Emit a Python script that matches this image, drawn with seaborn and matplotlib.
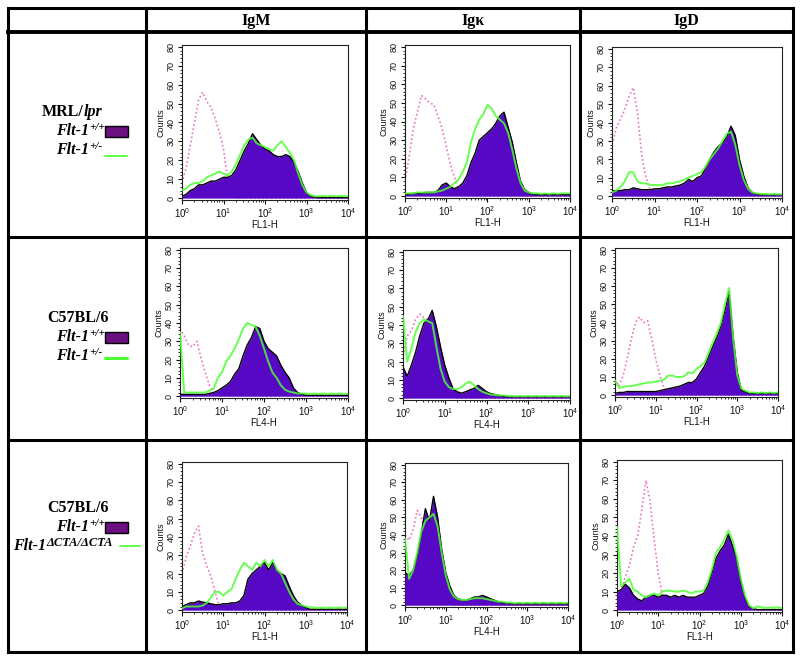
import numpy as np
import matplotlib
matplotlib.use("Agg")
import matplotlib.pyplot as plt
from matplotlib.patches import Rectangle
from matplotlib.ticker import MultipleLocator, LogLocator, NullFormatter
import seaborn as sns

# ---------------- data (log10 of fluorescence channel, counts) ----------------
DECADES = [0.0, 0.1, 0.2, 0.3, 0.4, 0.5, 0.6, 0.7, 0.8, 0.9,
           1.0, 1.1, 1.2, 1.3, 1.4, 1.5, 1.6, 1.7, 1.8, 1.9,
           2.0, 2.1, 2.2, 2.3, 2.4, 2.5, 2.6, 2.7, 2.8, 2.9,
           3.0, 3.1, 3.2, 3.3, 3.4, 3.5, 3.6, 3.7, 3.8, 3.9, 4.0]

COLUMNS = ["IgM", "Igκ", "IgD"]

# Row 1: MRL/lpr
IGM_MRL_ISO = [8, 16, 28, 40, 52, 56, 51, 48, 42, 35, 26, 10, 1] + [0] * 28
IGM_MRL_WT = [1, 2, 4, 5, 7, 7, 8, 9, 9, 10, 11, 11, 12, 15, 20, 25, 29, 34, 31, 28,
              26, 25, 23, 22, 22, 23, 22, 19, 14, 8, 3, 1, 0.5] + [0.3] * 8
IGM_MRL_HET = [4, 5, 7, 8, 8, 9, 11, 12, 13, 14, 13, 12, 14, 18, 23, 28, 31, 32, 29, 28,
               27, 26, 25, 28, 30, 27, 24, 20, 13, 7, 3, 1.5, 1, 1, 1.2, 1, 1.3, 1, 1.2, 1, 1]

IGK_MRL_ISO = [8, 21, 36, 45, 54, 52, 50, 49, 43, 36, 27, 17, 10, 3, 0.5] + [0] * 26
IGK_MRL_WT = [1, 1, 1.5, 1.5, 1.5, 2, 2, 2, 3, 6, 7, 5, 4, 5, 7, 11, 18, 23, 30, 32,
              34, 36, 39, 43, 45, 37, 29, 18, 8, 3.5, 2, 1] + [0.8] * 9
IGK_MRL_HET = [1.5, 1.5, 1.5, 2, 2, 2, 2, 2, 2.5, 3, 4, 5, 7, 9, 13, 18, 29, 36, 41, 44,
               49, 47, 43, 41, 39, 34, 25, 15, 7, 3, 2, 1.5, 1.5, 1.2, 1.5, 1.2, 1.5, 1.2, 1.5, 1.5, 1.5]

IGD_MRL_ISO = [28, 37, 42, 47, 54, 59, 45, 22, 10, 3, 0.5] + [0] * 30
IGD_MRL_WT = [3, 3, 3, 3.5, 3.5, 4.5, 4, 3.5, 3.5, 3.5, 4, 4, 4.5, 5, 5, 5.5, 6, 7, 9, 8,
              10, 11, 15, 20, 24, 27, 29, 32, 38, 33, 20, 11, 4.5, 2, 1] + [0.8] * 6
IGD_MRL_HET = [2, 3, 5, 8, 13, 13, 8, 7, 7, 6, 6, 6, 6, 7, 7, 7.5, 8, 9, 10, 11,
               12, 13, 16, 20, 23, 26, 30, 34, 35, 28, 17, 9, 4, 2, 1.5, 1.2, 1.2, 1, 1.2, 1, 1]

# Row 2: C57BL/6
IGM_B6_ISO = [37, 33, 28, 27, 30, 21, 13, 6, 2, 0.5] + [0] * 31
IGM_B6_WT = [1, 1, 1, 1, 1, 1, 1, 1.5, 2, 3, 4.5, 6, 8, 12, 15, 22, 28, 32, 38, 37,
             30, 26, 24, 22, 17, 13, 10, 4.5, 2, 1] + [0.5] * 11
IGM_B6_HET = [35, 2, 2, 2, 2, 2, 2, 3, 4, 10, 13, 19, 22, 26, 31, 37, 40, 39, 38, 33,
              26, 19, 13, 10, 6, 3.5, 2.5, 2, 1.5, 1.5, 1.5, 1.2, 1.5, 1.2, 1.5, 1.2, 1.5, 1.2, 1.5, 1.2, 1.5]

IGK_B6_ISO = [23, 34, 37, 43, 46, 44, 43, 45, 32, 18, 9, 3.5, 1] + [0] * 28
IGK_B6_WT = [17, 12, 18, 25, 34, 41, 43, 48, 39, 28, 18, 11, 5, 3.5, 2.7, 3.5, 4.5, 5.3, 7, 5.3,
             3.5, 2.5, 2, 1.5, 1] + [0.8] * 16
IGK_B6_HET = [45, 20, 27, 36, 41, 43, 42, 41, 28, 16, 9, 6, 5, 5, 6, 8, 9, 7, 5, 3.5,
              2.7, 2, 1.8, 1.5, 1.5, 1.2, 1.2, 1, 1.2, 1, 1.2, 1, 1.2, 1, 1.2, 1, 1.2, 1, 1.2, 1, 1.2]

IGD_B6_ISO = [9, 5, 11, 20, 31, 40, 43, 40, 41, 31, 20, 11, 3.6, 1] + [0] * 27
IGD_B6_WT = [1, 1.5, 1.5, 2, 2, 2, 2, 2, 2, 2, 2, 2.5, 3, 3.5, 4, 4.5, 5, 6, 7, 7,
             9, 12.6, 16, 21.6, 27, 32, 38, 47, 57, 32, 12.6, 2.7, 1.8] + [1] * 8
IGD_B6_HET = [8, 4, 4.5, 5, 5, 5.5, 6, 6.5, 7, 7, 7.5, 8, 8.5, 10.8, 10.8, 10, 10, 10.5, 12.6, 12,
              14.4, 16, 18, 23.4, 29, 34, 40, 50, 59, 31, 11, 3.6, 2.5, 1.5, 1.5, 1.2, 1.5, 1.2, 1.5, 1.2, 1.5]

# Row 3: C57BL/6, Flt-1 dCTA/dCTA
IGM_CTA_ISO = [20, 29, 35, 42, 46, 31, 24, 18.7, 10, 2.7, 1] + [0] * 30
IGM_CTA_WT = [2, 3, 4, 4, 5, 4.4, 4, 3.5, 3, 3, 3.5, 3.5, 4, 4, 5, 8, 17, 20, 22, 24,
              26, 22, 26, 22, 20, 18.7, 13, 8, 4.4, 2.7, 1.5] + [0.5] * 10
IGM_CTA_HET = [1, 2, 2, 2, 2, 2.5, 4, 7, 10, 10, 8, 10, 11.5, 17, 22, 26, 24, 22, 26, 24,
               27.5, 24, 27.5, 22, 20, 15, 10, 6, 3.5, 2.7, 2, 1.5, 1.5, 1.2, 1.5, 1.2, 1.5, 1.2, 1.5, 1.2, 1.5]

IGK_CTA_ISO = [40, 37, 43, 54, 50, 40, 35, 25, 15, 7, 3, 1] + [0] * 29
IGK_CTA_WT = [18.6, 17, 20, 28, 41, 55, 48, 62, 50, 32, 18.6, 11, 5.6, 3.7, 2.8, 2.8, 3.7, 4.7, 4.7, 5.6,
              4.7, 3.7, 2.8, 1.9, 1.5, 1.2] + [0.8] * 15
IGK_CTA_HET = [38, 15, 20, 30, 42, 48, 50, 52, 45, 30, 17, 9, 5, 3.5, 3, 3, 3.5, 4, 4, 4,
               3.5, 3, 2.5, 2, 2, 1.5, 1.5, 1.2, 1.5, 1.2, 1.5, 1.2, 1.5, 1.2, 1.5, 1.2, 1.5, 1.2, 1.5, 1.2, 1.5]

IGD_CTA_ISO = [6, 10, 18, 24, 34, 40, 54, 70, 59, 38, 20, 8, 3.5, 1] + [0] * 27
IGD_CTA_WT = [10, 11, 14, 12, 8, 6, 5, 7, 8, 8, 7, 8, 8, 7, 8, 7, 8, 7, 7, 7,
              8, 9, 13, 20, 28, 32, 35, 41, 35, 28, 16, 7, 2, 0.8] + [0.3] * 7
IGD_CTA_HET = [45, 13, 15, 17, 11, 10, 8, 7, 8, 9, 8, 10, 10.5, 10.5, 10, 10, 10.5, 10, 9, 10,
               10, 10.5, 15, 22, 31, 34, 38, 43, 38, 29, 17, 8, 2.6, 1, 2, 1.5, 1.2, 1.5, 1.2, 1.5, 1.2]

PANELS = [
    [(IGM_MRL_ISO, IGM_MRL_WT, IGM_MRL_HET, "FL1-H"),
     (IGK_MRL_ISO, IGK_MRL_WT, IGK_MRL_HET, "FL1-H"),
     (IGD_MRL_ISO, IGD_MRL_WT, IGD_MRL_HET, "FL1-H")],
    [(IGM_B6_ISO, IGM_B6_WT, IGM_B6_HET, "FL4-H"),
     (IGK_B6_ISO, IGK_B6_WT, IGK_B6_HET, "FL4-H"),
     (IGD_B6_ISO, IGD_B6_WT, IGD_B6_HET, "FL1-H")],
    [(IGM_CTA_ISO, IGM_CTA_WT, IGM_CTA_HET, "FL1-H"),
     (IGK_CTA_ISO, IGK_CTA_WT, IGK_CTA_HET, "FL4-H"),
     (IGD_CTA_ISO, IGD_CTA_WT, IGD_CTA_HET, "FL1-H")],
]

# ---------------- layout / style ----------------
W, H = 800, 660
PURPLE = "#5608c4"
GREEN = "#4dff33"
PINK = "#f070c4"
BOX_PURPLE = "#6a1080"

sns.set_style("ticks")
plt.rcParams["font.family"] = ["Liberation Sans", "DejaVu Sans"]
plt.rcParams["text.color"] = "black"
plt.rcParams["axes.labelcolor"] = "#111111"
plt.rcParams["xtick.color"] = "#111111"
plt.rcParams["ytick.color"] = "#111111"

fig = plt.figure(figsize=(W / 100, H / 100), dpi=100)
bg = fig.add_axes([0, 0, 1, 1], zorder=0)
bg.set_xlim(0, W)
bg.set_ylim(H, 0)
bg.axis("off")

# table grid
col_x = [8, 146, 366, 580, 793]
row_y = [8, 32, 237, 440, 652]
for x in col_x:
    bg.plot([x, x], [row_y[0], row_y[-1]], color="black", lw=2.2, solid_capstyle="projecting")
for i, y in enumerate(row_y):
    bg.plot([col_x[0], col_x[-1]], [y, y], color="black", lw=2.8 if i == 1 else 2.2,
            solid_capstyle="projecting")

SERIF = ["Liberation Serif", "DejaVu Serif"]
for j, name in enumerate(COLUMNS):
    bg.text((col_x[j + 1] + col_x[j + 2]) / 2, 21, name, ha="center", va="center",
            family=SERIF, fontweight="bold", fontsize=11.5, color="black")

FS = 11.5

def strain_label(y, main, italic_part=None, anchor=84):
    if italic_part is None:
        bg.text(78, y, main, ha="center", va="center", family=SERIF, fontweight="bold",
                fontsize=FS, color="black")
    else:
        bg.text(anchor, y, main, ha="right", va="center", family=SERIF, fontweight="bold",
                fontsize=FS, color="black")
        bg.text(anchor, y, italic_part, ha="left", va="center", family=SERIF, fontweight="bold",
                fontstyle="italic", fontsize=FS, color="black")

def geno_label(y, sup, anchor, supsize=8):
    bg.text(anchor, y, "Flt-1", ha="right", va="center", family=SERIF, fontweight="bold",
            fontstyle="italic", fontsize=FS, color="black")
    bg.text(anchor, y - 3.5, sup, ha="left", va="center", family=SERIF, fontweight="bold",
            fontstyle="italic", fontsize=supsize, color="black")

def purple_box(y):
    bg.add_patch(Rectangle((105, y - 5.5), 23, 11, facecolor=BOX_PURPLE, edgecolor="black", lw=1.0))

def green_line(x0, x1, y, lw):
    bg.plot([x0, x1], [y, y], color=GREEN, lw=lw)

# row 1
strain_label(112, "MRL/", "lpr", anchor=84)
geno_label(131, "+/+", 89)
purple_box(131)
geno_label(150, "+/-", 89)
green_line(105, 127, 156, 1.3)
# row 2
strain_label(318, "C57BL/6")
geno_label(337, "+/+", 89)
purple_box(337)
geno_label(356, "+/-", 89)
green_line(105, 127, 358, 2.2)
# row 3
strain_label(508, "C57BL/6")
geno_label(527, "+/+", 89)
purple_box(527)
geno_label(546, "ΔCTA/ΔCTA", 46, supsize=9)
green_line(120, 140, 546, 1.3)

# axes rectangles (left, top, right, bottom) in pixels
BOXES = [
    [(182, 45, 348, 200), (405, 45, 570, 198), (612, 47, 782, 198)],
    [(180, 248, 348, 398), (403, 250, 570, 400), (615, 248, 778, 397)],
    [(182, 462, 347, 612), (405, 463, 568, 607), (617, 460, 782, 612)],
]

xvals = 10 ** np.array(DECADES)

for r in range(3):
    for c in range(3):
        iso, wt, het, xlabel = PANELS[r][c]
        x0, y0, x1, y1 = BOXES[r][c]
        ax = fig.add_axes([x0 / W, 1 - y1 / H, (x1 - x0) / W, (y1 - y0) / H], zorder=2)
        ax.set_facecolor("white")
        ax.set_xscale("log")
        sns.lineplot(x=xvals, y=np.array(iso, float), ax=ax, color=PINK, lw=1.2,
                     linestyle=(0, (1, 1.5)), zorder=2, legend=False)
        ax.fill_between(xvals, np.array(wt, float), 0, color=PURPLE, lw=0, zorder=3)
        sns.lineplot(x=xvals, y=np.array(wt, float), ax=ax, color="black", lw=1.0, zorder=4,
                     legend=False)
        sns.lineplot(x=xvals, y=np.array(het, float), ax=ax, color=GREEN, lw=1.4, alpha=0.85,
                     zorder=5, legend=False)
        ax.set_xlim(1, 1e4)
        ax.set_ylim(-1, 81)
        ax.set_yticks(range(0, 81, 10))
        ax.yaxis.set_minor_locator(MultipleLocator(2))
        ax.xaxis.set_major_locator(LogLocator(base=10, numticks=10))
        ax.xaxis.set_minor_locator(LogLocator(base=10, subs=np.arange(2, 10), numticks=10))
        ax.xaxis.set_minor_formatter(NullFormatter())
        ax.tick_params(axis="both", which="major", length=3, width=0.8, labelsize=6.5, pad=1.5,
                       direction="out")
        ax.tick_params(axis="both", which="minor", length=1.6, width=0.6, direction="out")
        ax.tick_params(axis="x", labelsize=7)
        ax.tick_params(axis="y", labelrotation=90)
        for lab in ax.get_yticklabels():
            lab.set_va("center")
        ax.set_ylabel("Counts", fontsize=6.5, labelpad=1)
        ax.set_xlabel(xlabel, fontsize=7, labelpad=0)
        for sp in ax.spines.values():
            sp.set_visible(True)
            sp.set_linewidth(0.8)
            sp.set_color("#222222")

fig.savefig("out.png", dpi=100, facecolor="white")
